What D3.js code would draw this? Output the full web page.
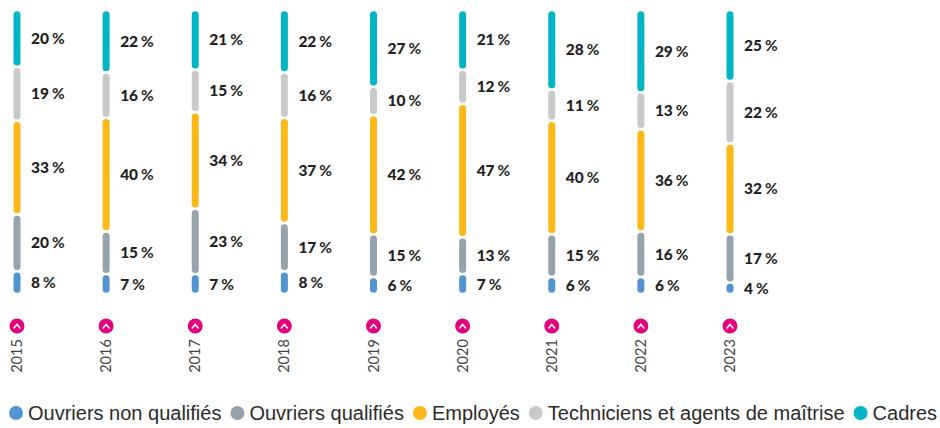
<!DOCTYPE html>
<html>
<head>
<meta charset="utf-8">
<script src="https://cdn.jsdelivr.net/npm/d3@7"></script>
<style>
  body { margin: 0; background: #fff; }
  svg { display: block; }
</style>
</head>
<body>
<div id="chart"></div>
<script>
// données (en %)
const annees = ["2015", "2016", "2017", "2018", "2019", "2020", "2021", "2022", "2023"]
const categories = ["Ouvriers non qualifiés", "Ouvriers qualifiés", "Employés", "Techniciens et agents de maîtrise", "Cadres"]
const ouvriersNonQualifies = [8, 7, 7, 8, 6, 7, 6, 6, 4]
const ouvriersQualifies = [20, 15, 23, 17, 15, 13, 15, 16, 17]
const employes = [33, 40, 34, 37, 42, 47, 40, 36, 32]
const techniciens = [19, 16, 15, 16, 10, 12, 11, 13, 22]
const cadres = [20, 22, 21, 22, 27, 21, 28, 29, 25]
const couleurs = ["#5294d0", "#95a3ad", "#fbb817", "#c9c9c9", "#00b6c4"]

const series = [ouvriersNonQualifies, ouvriersQualifies, employes, techniciens, cadres]

const largeur = 940
const hauteur = 428

const svg = d3.select("#chart")
  .append("svg")
    .attr("width", largeur)
    .attr("height", hauteur)

// échelles
const x = d3.scalePoint()
  .domain(annees)
  .range([17, 730])

const y = d3.scaleLinear()
  .domain([0, 100])
  .range([294, 10])

const couleur = d3.scaleOrdinal()
  .domain(categories)
  .range(couleurs)

// empilement
const lignes = annees.map((a, i) => {
  const o = { annee: a }
  categories.forEach((c, j) => { o[c] = series[j][i] })
  return o
})
const pile = d3.stack().keys(categories)(lignes)

const barW = 7
const gap = 1.2

const groupes = svg.append("g")
  .selectAll("g")
  .data(pile)
  .join("g")
    .attr("fill", d => couleur(d.key))

groupes.selectAll("rect")
  .data(d => d.map(s => ({ s: s, key: d.key })))
  .join("rect")
    .attr("x", d => x(d.s.data.annee) - barW / 2)
    .attr("y", d => y(d.s[1]) + gap)
    .attr("width", barW)
    .attr("height", d => Math.max(0, y(d.s[0]) - y(d.s[1]) - 2 * gap))
    .attr("rx", barW / 2)

// étiquettes
const etiquettes = svg.append("g")
  .selectAll("g")
  .data(pile)
  .join("g")

etiquettes.selectAll("text")
  .data(d => d)
  .join("text")
    .attr("x", d => x(d.data.annee) + 14)
    .attr("y", d => (y(d[0]) + y(d[1])) / 2 + 5.5)
    .attr("font-family", "Lato, 'Open Sans', sans-serif")
    .attr("font-size", "15.5px")
    .attr("font-weight", "900")
    .attr("fill", "#231f20")
    .each(function (d) {
      const t = d3.select(this)
      t.append("tspan").text(d[1] - d[0])
      t.append("tspan").attr("font-weight", "bold").attr("dx", 3).text("%")
    })

// pastilles roses + années
const bas = svg.append("g")
  .selectAll("g")
  .data(annees)
  .join("g")
    .attr("transform", d => `translate(${x(d)},0)`)

bas.append("circle")
  .attr("cy", 326)
  .attr("r", 7.5)
  .attr("fill", "#e5007e")

bas.append("path")
  .attr("d", "M-3,328 L0,324.5 L3,328")
  .attr("fill", "none")
  .attr("stroke", "#fff")
  .attr("stroke-width", 1.6)
  .attr("stroke-linecap", "round")

bas.append("text")
  .attr("transform", "translate(5,356) rotate(-90)")
  .attr("text-anchor", "middle")
  .attr("font-family", "Lato, sans-serif")
  .attr("font-size", "14.5px")
  .attr("fill", "#444")
  .text(d => d)

// légende
const legende = svg.append("g")
let xl = 16
categories.forEach((c) => {
  legende.append("circle")
    .attr("cx", xl)
    .attr("cy", 413)
    .attr("r", 7)
    .attr("fill", couleur(c))
  const t = legende.append("text")
    .attr("x", xl + 12)
    .attr("y", 419.5)
    .attr("font-family", "'Liberation Sans', Arial, sans-serif")
    .attr("font-size", "20px")
    .attr("fill", "#2b2b2b")
    .text(c)
  xl = xl + 12 + t.node().getComputedTextLength() + 16
})
</script>
</body>
</html>
